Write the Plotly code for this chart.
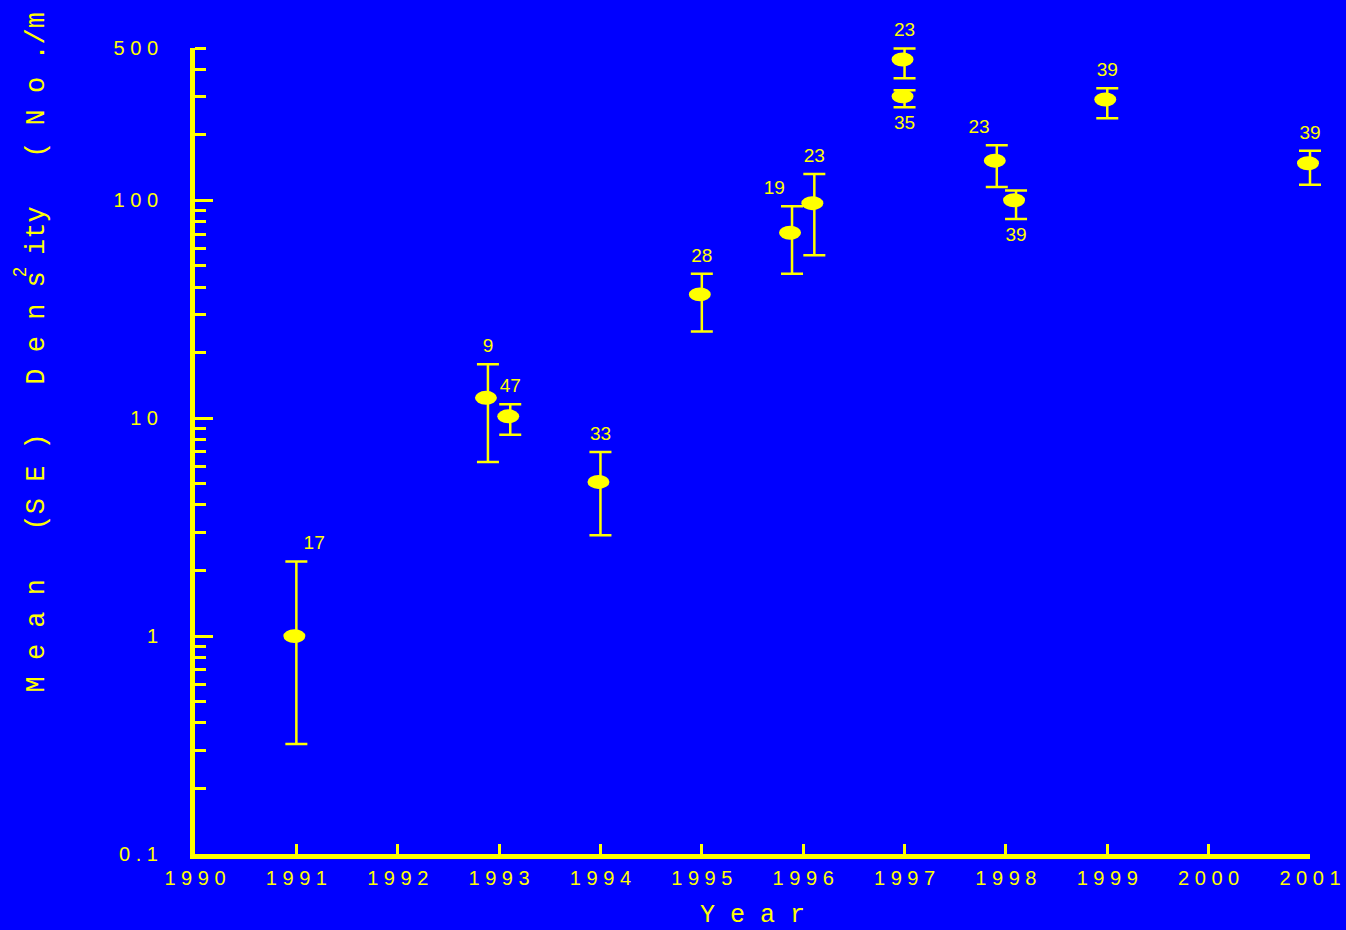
import numpy as np
import plotly.graph_objects as go

# ─── Data ─────────────────────────────────────────────────────────────────────
years = [1991.0, 1992.89, 1993.11, 1994.0, 1995.0, 1995.89, 1996.11,
         1997.0, 1997.0, 1997.91, 1998.1, 1999.0, 2001.0]
means = [1.0, 12.4, 10.2, 5.1, 37, 71, 97, 443, 300, 152, 100, 290, 148]
upper = [2.2, 17.7, 11.6, 7.0, 46, 94, 132, 498, 320, 179, 111, 327, 169]
lower = [0.32, 6.3, 8.4, 2.9, 25, 46, 56, 363, 267, 115, 82, 238, 118]
n_samples = ["17", "9", "47", "33", "28", "19", "23", "23", "35", "23", "39", "39", "39"]
label_pos = ["top right", "top center", "top center", "top center", "top center",
             "top left", "top center", "top center", "bottom center", "top left",
             "bottom center", "top center", "top center"]

x_ticks = list(range(1990, 2002))
y_ticks = [0.1, 1, 10, 100, 500]
y_major = [1, 10, 100]
y_minor = [0.2, 0.3, 0.4, 0.5, 0.6, 0.7, 0.8, 0.9,
           2, 3, 4, 5, 6, 7, 8, 9,
           20, 30, 40, 50, 60, 70, 80, 90,
           200, 300, 400, 500]

BLUE = "#0000FF"
YELLOW = "#FFFF00"
SANS = "Liberation Sans, Arial, sans-serif"
MONO = "Liberation Mono, DejaVu Sans Mono, monospace"

# ellipse half-height as a fraction of a decade on the log axis (~7 px)
ELLIPSE_DEC = 0.032


def spaced(s):
    return " ".join(str(s))


err_plus = [u - m for u, m in zip(upper, means)]
err_minus = [m - l for m, l in zip(means, lower)]
label_y = [lo if p.startswith("bottom") else hi
           for hi, lo, p in zip(upper, lower, label_pos)]

# ─── Figure ───────────────────────────────────────────────────────────────────
fig = go.Figure()

fig.add_trace(go.Scatter(
    x=years, y=means, mode="markers",
    marker=dict(size=1, color=YELLOW, opacity=0),
    error_y=dict(type="data", array=err_plus, arrayminus=err_minus,
                 color=YELLOW, thickness=2.5, width=11),
    cliponaxis=False, showlegend=False, hoverinfo="skip",
))

fig.add_trace(go.Scatter(
    x=years, y=label_y, mode="markers+text",
    marker=dict(size=10, opacity=0),
    text=n_samples, textposition=label_pos,
    textfont=dict(family=SANS, size=19, color=YELLOW),
    cliponaxis=False, showlegend=False, hoverinfo="skip",
))

# long major ticks live on an overlaid axis
fig.add_trace(go.Scatter(x=[None], y=[None], yaxis="y2", showlegend=False))

# elliptical markers
f = 10 ** ELLIPSE_DEC
for yr, m in zip(years, means):
    fig.add_shape(
        type="circle", xref="x", yref="y",
        xsizemode="pixel", xanchor=yr, x0=-13, x1=9,
        y0=m / f, y1=m * f,
        fillcolor=YELLOW, line=dict(width=0), layer="above",
    )

yrange = [-1, np.log10(500)]

fig.update_layout(
    width=1346, height=930,
    paper_bgcolor=BLUE, plot_bgcolor=BLUE,
    margin=dict(l=195, r=36, t=48, b=76),
    xaxis=dict(
        range=[1990, 2001], tickvals=x_ticks,
        ticktext=[spaced(v) for v in x_ticks],
        ticks="inside", ticklen=10, tickwidth=3, tickcolor=YELLOW,
        showline=True, linewidth=5, linecolor=YELLOW,
        showgrid=False, zeroline=False, automargin=False,
        tickfont=dict(family=SANS, size=20, color=YELLOW),
        ticklabelstandoff=2,
        title=dict(text="Y e a r", font=dict(family=MONO, size=25, color=YELLOW),
                   standoff=25),
    ),
    yaxis=dict(
        type="log", range=yrange, tickvals=y_ticks,
        ticktext=[spaced(v) for v in y_ticks],
        ticks="", showline=True, linewidth=5, linecolor=YELLOW,
        showgrid=False, zeroline=False, automargin=False,
        tickfont=dict(family=SANS, size=20, color=YELLOW),
        ticklabelstandoff=28,
        minor=dict(tickvals=y_minor, ticks="inside", ticklen=11,
                   tickwidth=3, tickcolor=YELLOW, showgrid=False),
    ),
    yaxis2=dict(
        type="log", range=yrange, overlaying="y", side="left",
        tickvals=y_major, showticklabels=False,
        ticks="inside", ticklen=18, tickwidth=3, tickcolor=YELLOW,
        showline=False, showgrid=False, zeroline=False, automargin=False,
    ),
)

# rotated y title (monospace cells keep the wide letter spacing)
fig.add_annotation(
    text="M e a n   (S E )   D e n s ity   ( N o ./m",
    xref="paper", yref="paper", x=-0.1417, y=0.1973,
    xanchor="center", yanchor="bottom", textangle=-90, showarrow=False,
    font=dict(family=MONO, size=27, color=YELLOW),
)
fig.add_annotation(
    text="2", xref="paper", yref="paper", x=-0.157, y=0.722,
    xanchor="center", yanchor="middle", textangle=-90, showarrow=False,
    font=dict(family=SANS, size=18, color=YELLOW),
)

# no page margin, and let markers/error bars at the frame edge spill over it
js = """
document.body.style.margin = '0';
document.querySelectorAll('.plotly [clip-path]').forEach(function (el) {
    el.removeAttribute('clip-path');
});
"""
fig.write_html("out.html", config={"displayModeBar": False}, post_script=js)
